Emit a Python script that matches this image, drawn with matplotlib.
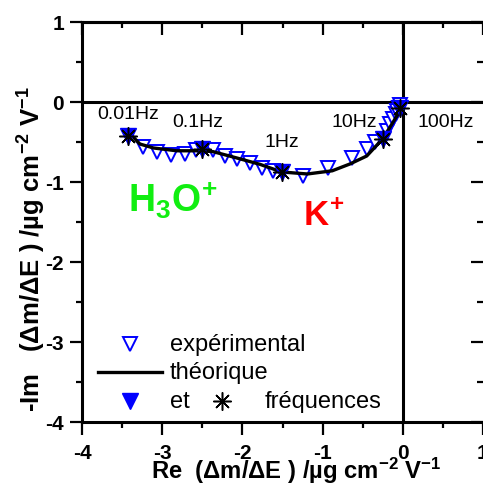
import matplotlib
matplotlib.use("Agg")
import matplotlib.pyplot as plt
from matplotlib.ticker import MultipleLocator

plt.rcParams['font.family'] = ['Liberation Sans', 'DejaVu Sans']
plt.rcParams['mathtext.fontset'] = 'custom'
plt.rcParams['mathtext.rm'] = 'Liberation Sans'
plt.rcParams['mathtext.bf'] = 'Liberation Sans:bold'
plt.rcParams['mathtext.default'] = 'regular'
plt.rcParams['axes.unicode_minus'] = False

# experimental points (open triangles)
exp_x = [-3.24, -3.07, -2.89, -2.72, -2.58, -2.37, -2.22, -2.07, -1.90, -1.76,
         -1.62, -1.24, -0.93, -0.64, -0.45, -0.35, -0.20, -0.16, -0.12, -0.09,
         -0.07, -0.05, -0.035]
exp_y = [-0.56, -0.63, -0.66, -0.65, -0.60, -0.60, -0.67, -0.71, -0.76, -0.82,
         -0.86, -0.92, -0.83, -0.70, -0.59, -0.50, -0.36, -0.28, -0.21, -0.15,
         -0.11, -0.07, -0.04]

# theoretical curve
theo_x = [-3.40, -3.28, -3.11, -2.82, -2.53, -2.37, -2.07, -1.78, -1.51, -1.19,
          -0.88, -0.66, -0.45, -0.25, -0.12, -0.035, 0.0]
theo_y = [-0.40, -0.525, -0.575, -0.61, -0.61, -0.62, -0.70, -0.78, -0.875, -0.90,
          -0.86, -0.775, -0.675, -0.46, -0.25, -0.11, -0.03]

# frequency markers
freq_x = [-3.43, -2.50, -1.51, -0.25, -0.03]
freq_y = [-0.43, -0.59, -0.875, -0.46, -0.07]
freq_labels = ['0.01Hz', '0.1Hz', '1Hz', '10Hz', '100Hz']
freq_lab_x = [-3.42, -2.56, -1.51, -0.60, 0.54]
freq_lab_y = [-0.15, -0.24, -0.49, -0.25, -0.25]

star = (8, 2, 0)

fig = plt.figure(figsize=(4.83, 4.89), dpi=100)
ax = fig.add_axes([0.170, 0.135, 0.830, 0.818])

ax.axhline(0, color='black', lw=2.2, zorder=1)
ax.axvline(0, color='black', lw=2.2, zorder=1)

ax.plot(exp_x, exp_y, 'v', ms=10.5, mfc='white', mec='blue', mew=1.4, zorder=2)
ax.plot(theo_x, theo_y, '-', color='black', lw=2.4, zorder=3)
ax.plot(freq_x, freq_y, 'v', ms=11, color='blue', zorder=4)
ax.plot(freq_x, freq_y, linestyle='none', marker=star, ms=13, mec='black', mew=1.1, zorder=5)

for lx, ly, t in zip(freq_lab_x, freq_lab_y, freq_labels):
    ax.text(lx, ly, t, fontsize=14, ha='center', va='center')

ax.text(-3.43, -1.375, r'H$_3$O$^{\!+}$', color='#11ee11', fontsize=27, fontweight='bold')
ax.text(-1.245, -1.525, r'K$^{\!+}$', color='red', fontsize=25, fontweight='bold')

# legend drawn by hand
tr = ax.transAxes
ax.plot([0.12], [0.195], 'v', ms=10.5, mfc='white', mec='blue', mew=1.4, transform=tr)
ax.text(0.219, 0.195, 'expérimental', fontsize=17, va='center', transform=tr)
ax.plot([0.04, 0.20], [0.125, 0.125], '-', color='black', lw=2.4, transform=tr)
ax.text(0.219, 0.125, 'théorique', fontsize=17, va='center', transform=tr)
ax.plot([0.12], [0.0525], 'v', ms=11, color='blue', transform=tr)
ax.text(0.219, 0.0525, 'et', fontsize=17, va='center', transform=tr)
ax.plot([0.349], [0.0525], linestyle='none', marker=star, ms=13, mec='black', mew=1.1, transform=tr)
ax.text(0.456, 0.0525, 'fréquences', fontsize=17, va='center', transform=tr)

ax.set_xlim(-4, 1)
ax.set_ylim(-4, 1)
ax.xaxis.set_major_locator(MultipleLocator(1))
ax.xaxis.set_minor_locator(MultipleLocator(0.5))
ax.yaxis.set_major_locator(MultipleLocator(1))
ax.yaxis.set_minor_locator(MultipleLocator(0.5))
ax.tick_params(which='major', direction='out', length=9, width=1.6, labelsize=15, pad=6)
ax.tick_params(which='minor', direction='out', length=4.5, width=1.6)
for lab in ax.get_xticklabels() + ax.get_yticklabels():
    lab.set_fontweight('bold')
ax.tick_params(axis='y', pad=4)

for s in ax.spines.values():
    s.set_linewidth(2.2)
ax.spines['right'].set_visible(False)

# inward ticks on top and right
top = ax.secondary_xaxis('top')
top.xaxis.set_major_locator(MultipleLocator(1))
top.xaxis.set_minor_locator(MultipleLocator(0.5))
top.tick_params(which='major', direction='in', length=9, width=1.6, labeltop=False)
top.tick_params(which='minor', direction='in', length=4.5, width=1.6)
top.spines['top'].set_linewidth(2.2)
right = ax.secondary_yaxis('right')
right.yaxis.set_major_locator(MultipleLocator(1))
right.yaxis.set_minor_locator(MultipleLocator(0.5))
right.tick_params(which='major', direction='in', length=9, width=1.6, labelright=False)
right.tick_params(which='minor', direction='in', length=4.5, width=1.6)
right.spines['right'].set_visible(False)

ax.set_xlabel(r'Re  ($\Delta$m/$\Delta$E ) /µg cm$^{-2}$ V$^{-1}$', fontsize=17.2, fontweight='bold')
ax.xaxis.set_label_coords(0.534, -0.12)
ax.xaxis.label.set_va('center')
ax.set_ylabel(r'-Im   ($\Delta$m/$\Delta$E ) /µg cm$^{-2}$ V$^{-1}$', fontsize=18.5, fontweight='bold')
ax.yaxis.set_label_coords(-0.125, 0.435)
ax.yaxis.label.set_va('center')

fig.savefig('out.png', dpi=100)
